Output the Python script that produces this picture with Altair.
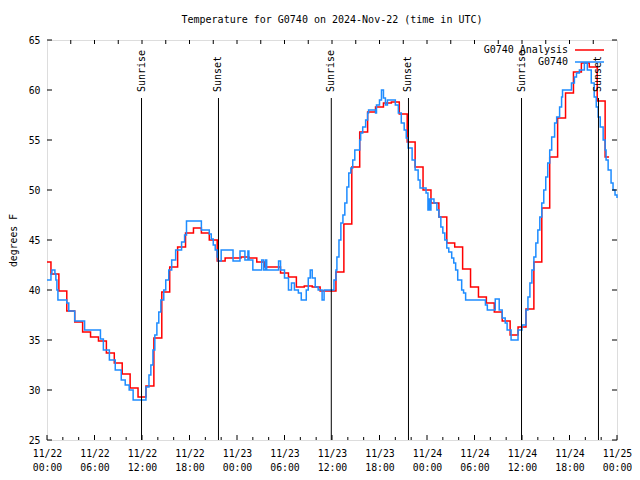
import altair as alt
import pandas as pd

FONT = "DejaVu Sans Mono"
BASE = pd.Timestamp("2024-11-22T00:00:00Z")

# ---- data -------------------------------------------------------------
analysis_hours = [0, 1, 2, 3, 4, 5, 6, 7, 8, 9, 10, 11, 12, 13, 14, 15, 16, 17,
                  18, 19, 20, 21, 22, 23, 24, 25, 26, 27, 28, 29, 30, 31, 32, 33,
                  34, 35, 36, 37, 38, 39, 40, 41, 42, 43, 44, 45, 46, 47, 48, 49,
                  50, 51, 52, 53, 54, 55, 56, 57, 58, 59, 60, 61, 62, 63, 64, 65,
                  66, 67, 68, 69, 70, 71]
analysis_temp = [42.8, 41.6, 39.9, 37.9, 36.8, 35.8, 35.3, 34.9, 33.7, 32.7, 31.6, 30.2,
                 29.3, 30.4, 35.2, 39.8, 42.3, 44.3, 45.7, 46.2, 45.7, 45.0, 42.9, 43.2,
                 43.2, 43.3, 43.2, 42.8, 42.3, 42.3, 41.7, 41.3, 40.3, 40.4, 40.3, 39.9,
                 39.9, 41.8, 46.6, 52.3, 55.8, 57.8, 58.3, 58.7, 58.8, 57.6, 54.8, 52.3,
                 50.0, 48.7, 47.3, 44.7, 44.3, 42.1, 40.3, 39.3, 38.7, 37.8, 36.9, 35.5,
                 36.3, 38.1, 42.8, 48.2, 53.3, 57.2, 59.7, 61.8, 62.7, 62.3, 58.9, 53.3]

obs_hours = [0, 0.5, 0.62, 1.0, 1.12, 1.25, 1.38, 2.5, 2.75, 3.5, 4.75, 6.75, 7.12,
             7.88, 8.62, 9.38, 9.88, 10.38, 10.88, 12.5, 12.88, 13.12, 13.38, 13.62,
             13.88, 14.12, 14.38, 14.75, 15.0, 15.38, 15.75, 16.25, 17.0, 17.38, 17.62,
             19.5, 20.5, 20.75, 21.0, 21.25, 21.5, 21.62, 22.0, 23.5, 24.38, 25.0,
             25.38, 25.5, 26.0, 27.12, 27.38, 27.62, 27.75, 29.25, 29.5, 30.0, 30.5,
             30.88, 31.25, 31.75, 32.12, 32.75, 33.0, 33.25, 33.5, 33.88, 34.25, 34.75,
             35.0, 36.25, 36.5, 36.62, 36.88, 37.12, 37.38, 37.62, 37.88, 38.12, 38.38,
             38.62, 38.88, 39.5, 39.62, 39.88, 40.25, 40.5, 40.62, 41.5, 41.62, 42.0,
             42.25, 42.5, 42.75, 43.0, 44.0, 44.38, 44.75, 45.12, 45.38, 45.62, 46.12,
             46.5, 46.88, 47.12, 47.88, 48.12, 48.25, 48.38, 48.5, 48.88, 49.25, 49.5,
             49.75, 50.0, 50.25, 50.5, 50.75, 51.12, 51.38, 51.62, 51.88, 52.38, 52.62,
             52.88, 55.38, 55.62, 56.62, 57.12, 57.5, 57.88, 58.12, 58.62, 59.5, 60.0,
             60.5, 60.75, 61.0, 61.25, 61.5, 61.75, 62.0, 62.25, 62.5, 62.75, 63.0,
             63.25, 63.5, 63.75, 64.12, 64.38, 64.75, 65.0, 65.12, 66.25, 66.62, 66.88,
             67.25, 67.88, 68.25, 68.75, 69.12, 69.38, 69.62, 69.88, 70.25, 70.5, 70.62,
             70.88, 71.25, 71.5, 71.75, 72.0]
obs_temp = [41.0, 41.6, 42.0, 41.6, 41.0, 40.0, 39.0, 38.7, 37.9, 36.9, 36.0, 35.1, 34.0,
            33.0, 32.0, 31.0, 30.5, 30.0, 29.0, 30.3, 31.5, 32.5, 34.0, 35.5,
            36.7, 37.8, 39.0, 40.0, 41.0, 42.0, 43.0, 44.0, 44.8, 45.5, 46.9,
            46.0, 45.6, 45.1, 44.5, 44.0, 43.3, 42.9, 44.0, 42.9, 43.9, 43.0,
            43.9, 43.0, 42.0, 43.0, 42.0, 43.0, 42.0, 42.9, 42.0, 41.2, 40.0,
            40.7, 40.0, 39.7, 39.0, 40.0, 41.2, 42.0, 41.2, 40.3, 40.0, 39.0,
            40.0, 41.0, 42.0, 43.3, 45.0, 46.7, 47.5, 48.7, 50.3, 51.7, 52.2,
            53.0, 54.0, 55.0, 55.7, 56.3, 57.0, 57.7, 58.0, 57.7, 58.5, 59.0,
            60.0, 59.2, 58.5, 59.0, 58.5, 57.7, 56.7, 56.0, 55.2, 54.2, 53.0,
            52.0, 51.0, 50.2, 49.7, 48.0, 49.1, 48.0, 49.1, 48.7, 48.0, 47.3,
            46.3, 45.7, 45.0, 44.2, 43.8, 43.2, 42.7, 42.0, 41.0, 40.0, 39.7,
            39.0, 38.5, 38.0, 39.1, 38.0, 37.2, 36.7, 36.0, 35.0, 36.0, 36.5,
            38.0, 39.3, 40.7, 42.0, 43.3, 44.7, 46.0, 47.3, 48.7, 50.0, 51.3,
            52.7, 54.0, 55.3, 56.7, 57.3, 58.3, 59.3, 60.0, 60.7, 61.3, 61.7,
            62.0, 62.7, 62.0, 60.7, 59.3, 58.3, 57.3, 56.3, 55.0, 54.0, 53.0,
            52.0, 50.7, 50.0, 49.5, 49.2]

sun_hours = [11.94, 21.66, 35.91, 45.66, 59.94, 69.66]
sun_labels = ["Sunrise", "Sunset", "Sunrise", "Sunset", "Sunrise", "Sunset"]

x_label_hours = [0, 6, 12, 18, 24, 30, 36, 42, 48, 54, 60, 66, 72]
x_minor_hours = [2, 4, 8, 10, 14, 16, 20, 22, 26, 28, 32, 34, 38, 40, 44, 46,
                 50, 52, 56, 58, 62, 64, 68, 70]
x_top_hours = [3, 6, 9, 12, 15, 18, 21, 24, 27, 30, 33, 36, 39, 42, 45, 48, 51,
               54, 57, 60, 63, 66, 69]
y_ticks = [25, 30, 35, 40, 45, 50, 55, 60, 65]

legend_names = ["G0740 Analysis", "G0740"]
legend_colors = ["#ff0000", "#1e8cff"]


def ms(hours):
    return [int((BASE + pd.Timedelta(hours=h)).timestamp() * 1000) for h in hours]


analysis_df = pd.DataFrame({"t": ms(analysis_hours), "v": analysis_temp})
obs_df = pd.DataFrame({"t": ms(obs_hours), "v": obs_temp})
sun_df = pd.DataFrame({"t": ms(sun_hours), "label": sun_labels})
xmaj_df = pd.DataFrame({"t": ms(x_label_hours)})
xmin_df = pd.DataFrame({"t": ms(x_minor_hours)})
xtop_df = pd.DataFrame({"t": ms(x_top_hours)})
y_df = pd.DataFrame({"v": y_ticks})
one_df = pd.DataFrame({"k": [0]})

W, H = 570, 400
x_dom = ms([0, 72])
xscale = alt.Scale(type="utc", domain=x_dom, nice=False)
yscale = alt.Scale(domain=[25, 65], nice=False)

x_axis = alt.Axis(
    values=ms(x_label_hours),
    labelExpr="[utcFormat(datum.value, '%m/%d'), utcFormat(datum.value, '%H:%M')]",
    ticks=False, domain=False, grid=False, labelPadding=8, labelLineHeight=14,
    labelFont=FONT, labelFontSize=9.8, labelColor="black", labelFlush=False,
    labelOverlap=False, labelBaseline="top", title=None,
)
y_axis = alt.Axis(
    values=y_ticks, ticks=False, domain=False, grid=False, labelPadding=7,
    labelFont=FONT, labelFontSize=9.8, labelColor="black", title="degrees F",
    titleFont=FONT, titleFontSize=9.8, titleFontWeight="normal", titleColor="black",
    titleX=-34, titleY=200, titleAngle=270, titleAlign="center", titleBaseline="middle",
)

X = alt.X("t:T", scale=xscale, axis=x_axis)
Y = alt.Y("v:Q", scale=yscale, axis=y_axis)

analysis_line = alt.Chart(analysis_df).mark_line(
    interpolate="step", color="#ff0000", strokeWidth=1.5, opacity=1
).encode(x=X, y=Y)

obs_line = alt.Chart(obs_df).mark_line(
    interpolate="step-after", color="#1e8cff", strokeWidth=1.5, opacity=1
).encode(x=X, y=Y)

sun_rules = alt.Chart(sun_df).mark_rule(color="black", strokeWidth=1).encode(
    x=X, y=alt.value(58), y2=alt.value(H)
)
sun_text = alt.Chart(sun_df).mark_text(
    angle=270, align="left", baseline="middle", font=FONT, fontSize=10, color="black"
).encode(x=X, y=alt.value(52), text="label:N")

xmaj_ticks = alt.Chart(xmaj_df).mark_rule(color="black").encode(
    x=X, y=alt.value(H), y2=alt.value(H - 5)
)
xmin_ticks = alt.Chart(xmin_df).mark_rule(color="black").encode(
    x=X, y=alt.value(H), y2=alt.value(H - 3)
)
xtop_ticks = alt.Chart(xtop_df).mark_rule(color="black").encode(
    x=X, y=alt.value(0), y2=alt.value(4)
)
yl_ticks = alt.Chart(y_df).mark_rule(color="black").encode(
    y=Y, x=alt.value(0), x2=alt.value(5)
)
yr_ticks = alt.Chart(y_df).mark_rule(color="black").encode(
    y=Y, x=alt.value(W), x2=alt.value(W - 5)
)

legend_layers = []
for i, (name, col) in enumerate(zip(legend_names, legend_colors)):
    yy = 10 + 12 * i
    legend_layers.append(
        alt.Chart(one_df).mark_text(
            align="right", baseline="middle", font=FONT, fontSize=10, color="black"
        ).encode(x=alt.value(W - 49), y=alt.value(yy), text=alt.value(name))
    )
    legend_layers.append(
        alt.Chart(one_df).mark_rule(color=col, strokeWidth=1.5).encode(
            x=alt.value(W - 42), x2=alt.value(W - 13), y=alt.value(yy)
        )
    )

chart = alt.layer(
    analysis_line, obs_line, sun_rules, sun_text,
    xmaj_ticks, xmin_ticks, xtop_ticks, yl_ticks, yr_ticks, *legend_layers
).properties(
    width=W, height=H,
    title=alt.TitleParams(
        "Temperature for G0740 on 2024-Nov-22 (time in UTC)",
        font=FONT, fontSize=10, fontWeight="normal", color="black",
        anchor="middle", offset=10,
    ),
    autosize=alt.AutoSizeParams(type="none"),
    padding={"left": 39, "top": 32, "right": 15, "bottom": 32},
).configure_view(
    stroke="black", strokeWidth=1
).configure(background="white")

chart.save("out.html", embed_options={"renderer": "svg", "actions": False})
